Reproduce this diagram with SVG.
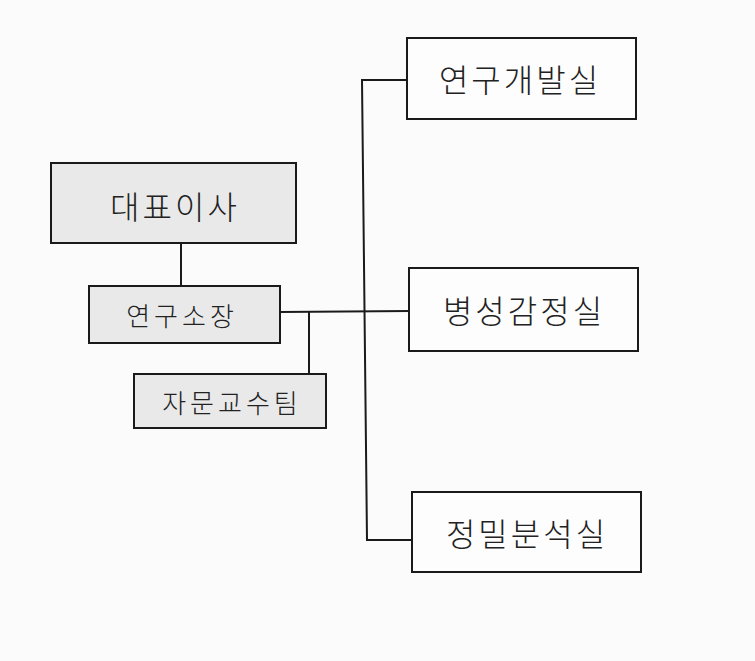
<svg xmlns="http://www.w3.org/2000/svg" width="755" height="661" viewBox="0 0 755 661">
<style>
.box{stroke:#1a1a1a;stroke-width:2}
.gray{fill:#e9e9e9}
.white{fill:#fdfdfd}
.lbl{font-family:"Noto Sans CJK KR","Noto Sans",sans-serif;font-weight:300;fill:#222;text-anchor:middle;dominant-baseline:central}
.big{font-size:32px;letter-spacing:3px}
.mid{font-size:26px;letter-spacing:4px}
.conn{stroke:#1a1a1a;stroke-width:2;fill:none}
</style>
<rect width="755" height="661" fill="#fbfbfb"/>
<g id="connectors">
<line class="conn" x1="181" y1="243" x2="181" y2="286"/>
<line class="conn" x1="280" y1="312" x2="410" y2="311"/>
<line class="conn" x1="309" y1="312" x2="309" y2="374"/>
<polyline class="conn" points="407,80 362,80 367,540 412,540"/>
</g>
<g id="n_ceo">
<rect class="box gray" x="51" y="163" width="245" height="80"/>
<text class="lbl big" x="175" y="205">대표이사</text>
</g>
<g id="n_director">
<rect class="box gray" x="89" y="286" width="191" height="57"/>
<text class="lbl mid" x="182" y="314">연구소장</text>
</g>
<g id="n_advisory">
<rect class="box gray" x="134" y="374" width="192" height="54"/>
<text class="lbl mid" x="232" y="401">자문교수팀</text>
</g>
<g id="n_rnd">
<rect class="box white" x="407" y="38" width="229" height="81"/>
<text class="lbl big" x="520" y="78">연구개발실</text>
</g>
<g id="n_diag">
<rect class="box white" x="409" y="268" width="229" height="83"/>
<text class="lbl big" x="524" y="309">병성감정실</text>
</g>
<g id="n_precision">
<rect class="box white" x="412" y="492" width="229" height="80"/>
<text class="lbl big" x="527" y="532">정밀분석실</text>
</g>
</svg>
